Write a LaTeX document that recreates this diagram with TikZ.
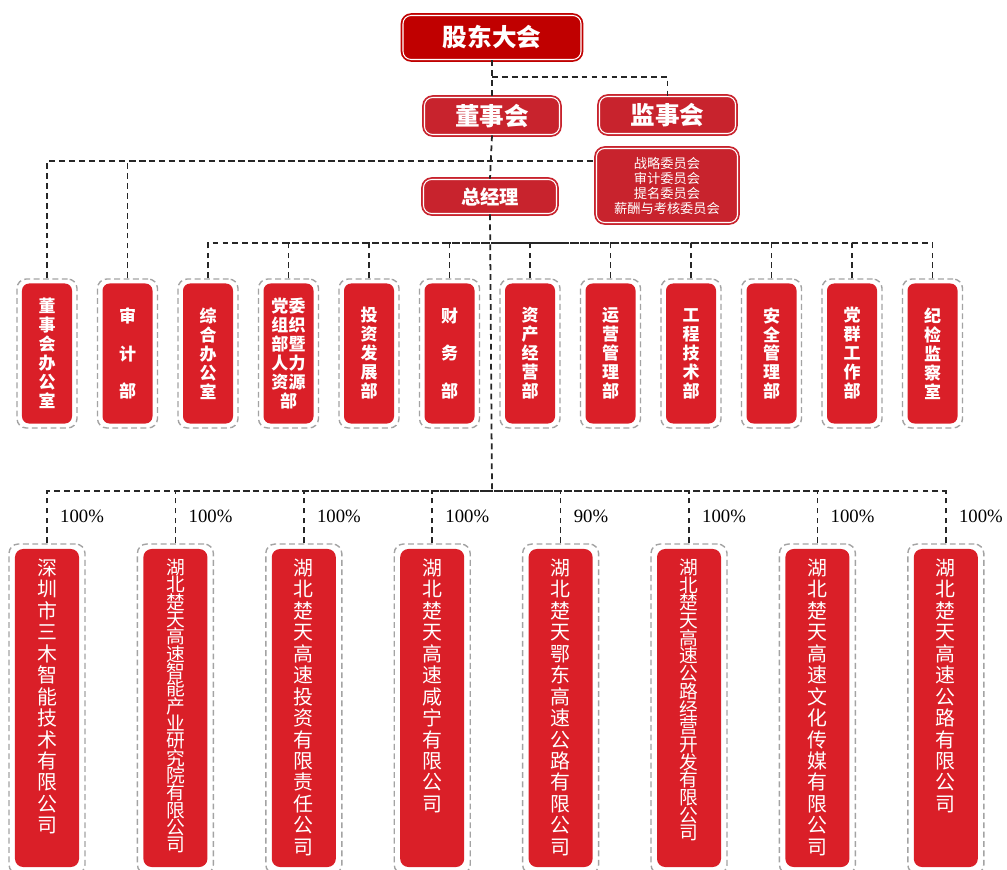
\documentclass[tikz,border=0pt]{standalone}
\usepackage{fontspec}
\usepackage{xcolor}
\newfontfamily\cjk{Noto Sans CJK SC}
\newfontfamily\pctfont{Liberation Serif}
\XeTeXlinebreaklocale "zh"
\XeTeXlinebreakskip=0pt plus 1pt
\definecolor{deepred}{HTML}{C00000}
\definecolor{midred}{HTML}{C8232D}
\definecolor{boxred}{HTML}{DA1F28}
\definecolor{dashgray}{HTML}{A3A3A3}
\tikzset{
    head-box/.style = {fill=#1, draw=#1, double=white, double distance=0.9pt, line width=1.5pt, rounded corners=7pt, inner sep=0pt, text=white},
    link/.style = {draw=black!85, line width=1.5pt, dash pattern=on 5pt off 3.5pt},
    dept-frame/.style = {draw=dashgray, line width=1.2pt, dash pattern=on 5pt off 3pt, rounded corners=8pt, minimum width=1.8cm, minimum height=4.47cm, inner sep=0pt},
    dept-box/.style = {fill=boxred, rounded corners=6pt, minimum width=1.5cm, minimum height=4.2cm, inner sep=0pt, text=white, align=center, font=\cjk\bfseries\fontsize{14.5}{16.2}\selectfont},
    sub-frame/.style = {dept-frame, minimum width=2.28cm, minimum height=9.9cm},
    sub-box/.style = {fill=boxred, rounded corners=7pt, minimum width=1.92cm, minimum height=9.54cm, inner sep=0pt},
    sub-text/.style = {anchor=north, text=white, align=center, text width=19pt, inner sep=0pt},
    share/.style = {anchor=west, font=\pctfont\fontsize{16}{16}\selectfont, inner sep=0pt},
}

\begin{document}
\begin{tikzpicture}[x=0.03cm, y=-0.03cm]
\useasboundingbox (0,0) rectangle (1007,870);

\node [head-box=deepred, minimum width=5.34cm, minimum height=1.32cm, font=\cjk\bfseries\fontsize{21}{21}\selectfont] (gudong) at (492,37.5) {股东大会};
\node [head-box=midred, minimum width=4.05cm, minimum height=1.11cm, font=\cjk\bfseries\fontsize{21}{21}\selectfont] (dongshi) at (492,116) {董事会};
\node [head-box=midred, minimum width=4.08cm, minimum height=1.11cm, font=\cjk\bfseries\fontsize{21}{21}\selectfont] (jianshi) at (667.5,115) {监事会};
\node [head-box=midred, minimum width=3.99cm, minimum height=1.02cm, font=\cjk\bfseries\fontsize{16.5}{16.5}\selectfont] (zongjingli) at (490,196.5) {总经理};
\node [head-box=midred, minimum width=4.23cm, minimum height=2.22cm, align=center, font=\cjk\fontsize{11.3}{12.8}\selectfont] (weiyuan) at (667,185.5) {战略委员会\\审计委员会\\提名委员会\\薪酬与考核委员会};

\foreach \i/\t/\w in {1/董事会办公室/17pt, 2/{审\\[16pt]计\\[16pt]部}/17pt, 3/综合办公室/17pt, 4/党委组织部暨人力资源部/31pt, 5/投资发展部/17pt, 6/{财\\[16pt]务\\[16pt]部}/17pt, 7/资产经营部/17pt, 8/运营管理部/17pt, 9/工程技术部/17pt, 10/安全管理部/17pt, 11/党群工作部/17pt, 12/纪检监察室/17pt} {
    \node [dept-frame] (dept-\i) at ({47+80.5*(\i-1)},353.5) {};
    \node [dept-box, text width=\w] (dept-in-\i) at (dept-\i) {\t};
}

\foreach \i/\t/\fs/\ls/\p in {1/深圳市三木智能技术有限公司/17/18.3/100, 2/湖北楚天高速智能产业研究院有限公司/16/14.8/100, 3/湖北楚天高速投资有限责任公司/17/18.3/100, 4/湖北楚天高速咸宁有限公司/17/18.3/100, 5/湖北楚天鄂东高速公路有限公司/17/18.3/90, 6/湖北楚天高速公路经营开发有限公司/16/15.1/100, 7/湖北楚天高速文化传媒有限公司/17/18.3/100, 8/湖北楚天高速公路有限公司/17/18.3/100} {
    \node [sub-frame] (sub-\i) at ({47+128.4*(\i-1)},709) {};
    \node [sub-box] (sub-in-\i) at ({47+128.4*(\i-1)},708) {};
    \node [sub-text, font={\cjk\fontsize{\fs}{\ls}\selectfont\lineskiplimit=-20pt}] (sub-name-\i) at ([yshift=-0.3cm]sub-in-\i.north) {\t};
    \node [share] (share-\i) at ({60+128.4*(\i-1)},516) {\p\%};
}

\coordinate (bus1) at (492,161);
\coordinate (bus2) at (492,243);
\coordinate (bus3) at (492,491);

\draw [link] (gudong.south) -- (dongshi.north);
\draw [link] (gudong.south) ++(0,16.5) -| (jianshi.north);
\draw [link] (dongshi.south) -- (zongjingli.north);
\draw [link] (dept-1.north) |- (bus1 -| weiyuan.west);
\draw [link] (dept-2.north) |- (bus1);
\draw [link] (zongjingli.south) -- (bus3);
\foreach \i in {3,...,12}
    \draw [link] (dept-\i.north) |- (bus2);
\foreach \i in {1,...,8}
    \draw [link] (sub-\i.north) |- (bus3);
\end{tikzpicture}
\end{document}
